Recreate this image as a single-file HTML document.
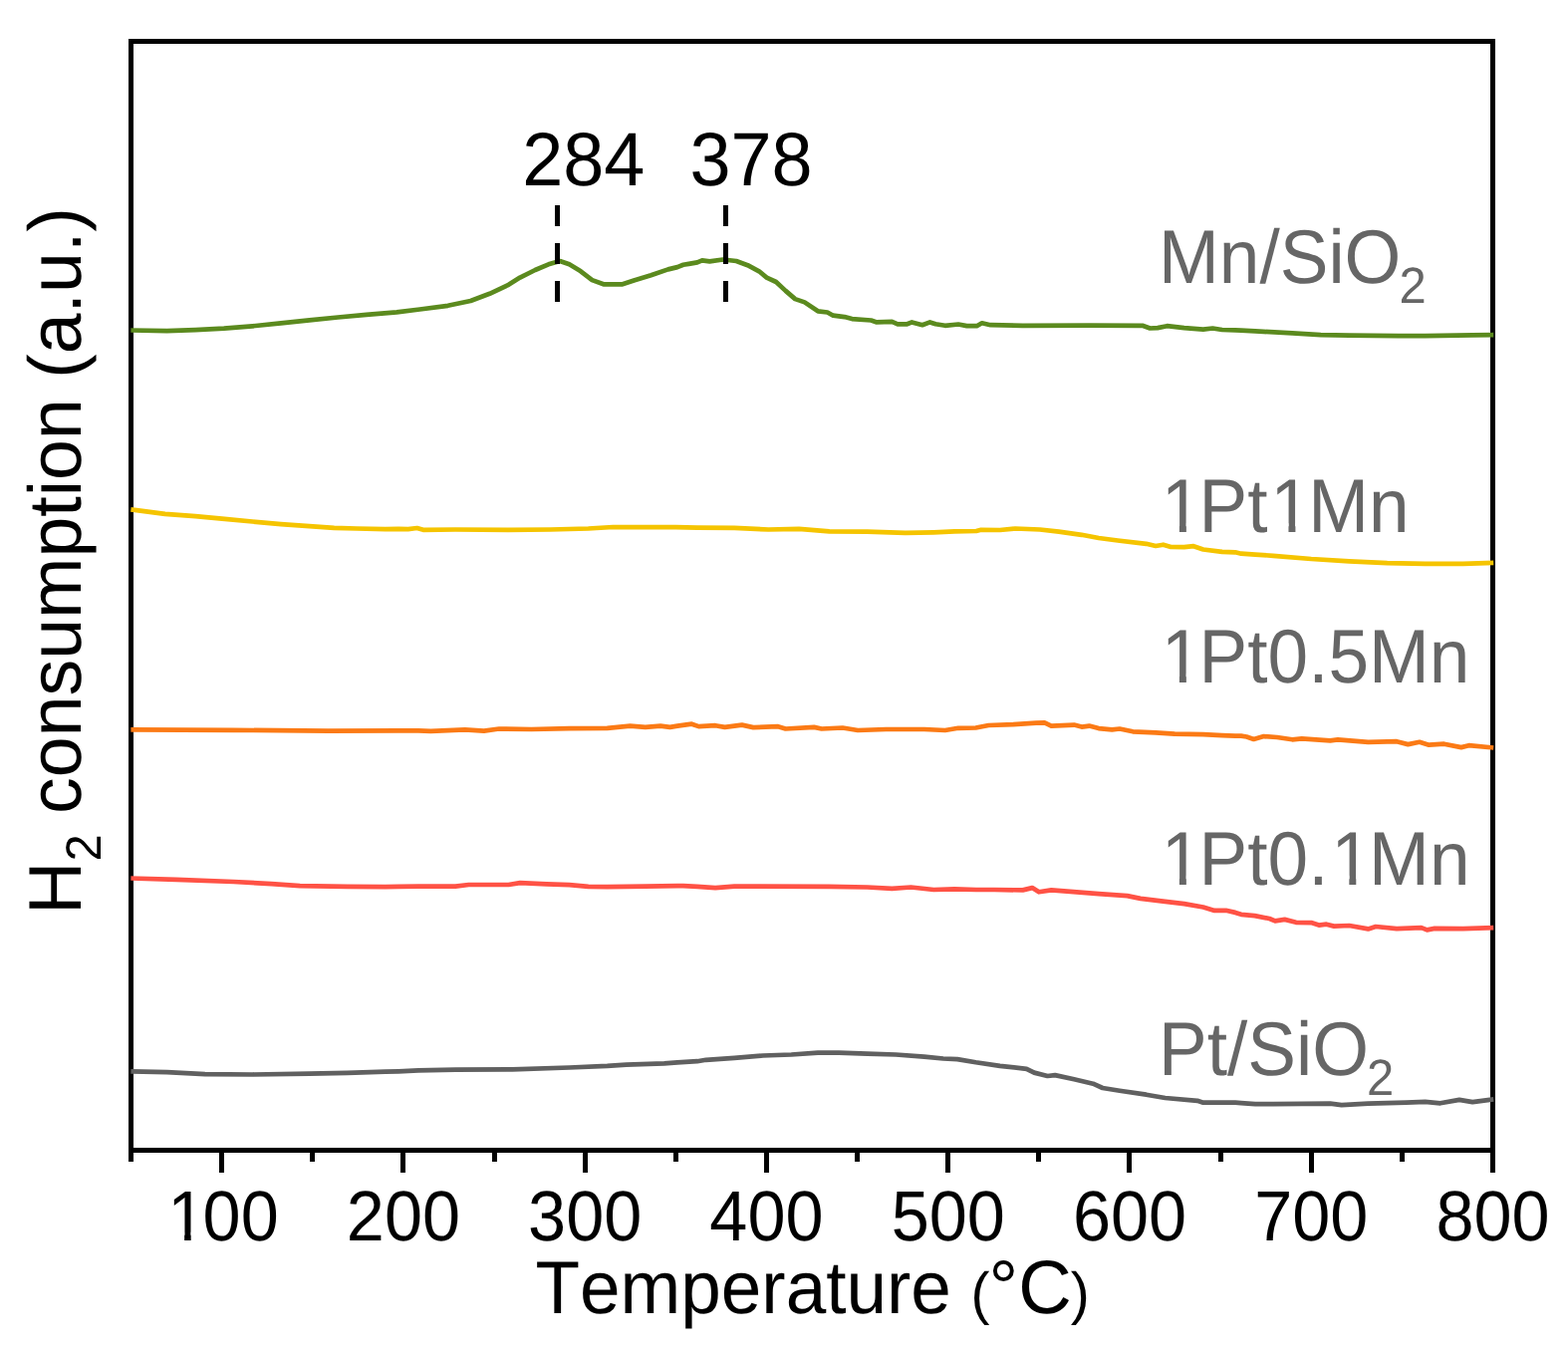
<!DOCTYPE html>
<html><head><meta charset="utf-8"><title>H2-TPR</title>
<style>
html,body{margin:0;padding:0;background:#fff;overflow:hidden;}
svg{display:block;}
text{font-family:"Liberation Sans",sans-serif;font-kerning:none;font-variant-ligatures:none;text-rendering:geometricPrecision;}
</style></head><body>
<svg width="1574" height="1358" viewBox="0 0 1574 1358">
<rect width="1574" height="1358" fill="#fff"/>
<defs>
<clipPath id="k100"><path clip-rule="evenodd" d="M-20,-68.4H154.1V27.4H-20ZM6.61,-8.11H19.56V4H6.61ZM26.10,-8.11H38.51V4H26.10Z"/></clipPath>
<clipPath id="kl1"><path clip-rule="evenodd" d="M-20,-73.0H291.6V29.2H-20ZM7.06,-8.45H20.89V4H7.06ZM27.84,-8.45H41.10V4H27.84ZM116.63,-8.45H130.46V4H116.63ZM137.41,-8.45H150.67V4H137.41Z"/></clipPath>
<clipPath id="kl2"><path clip-rule="evenodd" d="M-20,-73.0H352.5V29.2H-20ZM7.06,-8.45H20.89V4H7.06ZM27.84,-8.45H41.10V4H27.84Z"/></clipPath>
<clipPath id="kl3"><path clip-rule="evenodd" d="M-20,-73.0H352.5V29.2H-20ZM7.06,-8.45H20.89V4H7.06ZM27.84,-8.45H41.10V4H27.84ZM177.51,-8.45H191.34V4H177.51ZM198.29,-8.45H211.55V4H198.29Z"/></clipPath>
</defs>
<rect x="131.5" y="41.5" width="1367.0" height="1113.0" fill="none" stroke="#000" stroke-width="5" shape-rendering="crispEdges"/>
<g fill="#000" shape-rendering="crispEdges">
<rect x="129" y="1154" width="5" height="12"/>
<rect x="220" y="1154" width="5" height="23"/>
<rect x="311" y="1154" width="5" height="12"/>
<rect x="402" y="1154" width="5" height="23"/>
<rect x="494" y="1154" width="5" height="12"/>
<rect x="585" y="1154" width="5" height="23"/>
<rect x="676" y="1154" width="5" height="12"/>
<rect x="767" y="1154" width="5" height="23"/>
<rect x="858" y="1154" width="5" height="12"/>
<rect x="949" y="1154" width="5" height="23"/>
<rect x="1040" y="1154" width="5" height="12"/>
<rect x="1131" y="1154" width="5" height="23"/>
<rect x="1223" y="1154" width="5" height="12"/>
<rect x="1314" y="1154" width="5" height="23"/>
<rect x="1405" y="1154" width="5" height="12"/>
<rect x="1496" y="1154" width="5" height="23"/>
</g>
<g fill="none" stroke-width="4.7" stroke-linejoin="round" stroke-linecap="butt">
<path d="M131.4,1075.3 L167.6,1076.2 L205.8,1078.1 L253.4,1078.5 L310.6,1077.7 L348.7,1076.8 L386.8,1075.7 L400.0,1075.3 L420.0,1074.3 L457.2,1073.7 L514.4,1073.4 L571.5,1071.5 L609.6,1069.9 L628.7,1068.6 L666.8,1067.3 L680.0,1066.3 L700.0,1065.2 L708.6,1063.8 L737.2,1061.9 L765.8,1059.5 L794.4,1058.5 L821.0,1056.6 L842.0,1056.6 L870.6,1057.6 L899.2,1058.5 L927.8,1060.6 L946.8,1062.5 L961.0,1063.1 L979.5,1066.3 L1003.8,1069.9 L1030.5,1072.8 L1038.1,1076.6 L1051.5,1080.0 L1059.1,1079.1 L1078.2,1083.3 L1097.2,1087.7 L1106.8,1092.0 L1123.9,1094.8 L1150.6,1098.7 L1169.6,1102.0 L1202.0,1104.8 L1207.8,1106.7 L1240.0,1106.7 L1245.9,1107.1 L1260.0,1108.1 L1278.1,1108.1 L1335.3,1107.7 L1346.7,1109.2 L1373.4,1107.7 L1411.5,1106.7 L1430.6,1105.8 L1445.8,1107.3 L1464.9,1103.9 L1478.2,1106.1 L1499.2,1103.3" stroke="#606060"/>
<path d="M131.4,881.5 L177.2,882.9 L234.4,885.0 L272.5,887.1 L301.1,889.2 L348.7,889.9 L386.8,890.1 L400.0,889.9 L420.0,889.6 L457.2,889.6 L470.5,888.0 L510.5,888.0 L522.0,886.1 L548.7,887.3 L571.5,888.2 L590.6,889.9 L609.6,890.1 L647.8,889.6 L680.0,889.2 L685.9,889.2 L700.0,889.9 L718.1,891.1 L737.2,889.6 L832.5,889.9 L870.6,890.5 L895.4,891.8 L914.4,890.5 L937.3,893.0 L958.2,892.4 L980.0,893.0 L998.1,893.0 L1026.7,893.4 L1036.2,891.1 L1042.9,895.3 L1055.3,893.4 L1074.4,894.9 L1102.9,897.2 L1131.5,899.1 L1144.9,901.9 L1169.6,904.8 L1188.7,907.1 L1207.8,910.5 L1219.2,913.9 L1230.6,913.8 L1240.0,915.9 L1245.9,917.8 L1259.5,919.1 L1274.3,922.0 L1280.0,924.4 L1289.6,922.9 L1301.0,925.8 L1316.2,926.1 L1323.9,928.6 L1331.5,927.7 L1339.1,929.6 L1354.4,929.0 L1373.4,932.4 L1381.0,930.0 L1402.0,932.1 L1426.8,931.1 L1432.5,933.4 L1440.1,931.9 L1468.7,932.1 L1499.2,931.1" stroke="#ff5245"/>
<path d="M131.4,732.4 L234.4,732.8 L329.6,733.6 L400.0,733.4 L420.0,733.4 L432.4,733.9 L466.7,732.4 L485.8,733.7 L501.0,731.5 L533.4,732.0 L571.5,731.1 L609.6,730.9 L632.5,728.6 L647.8,729.9 L663.0,728.6 L672.5,729.9 L680.0,728.6 L694.4,726.7 L701.4,729.1 L718.1,728.2 L727.6,729.9 L744.8,727.6 L756.2,730.1 L781.0,729.2 L788.6,731.5 L817.2,729.9 L824.8,731.5 L845.8,730.5 L861.1,733.0 L889.6,732.0 L927.8,732.0 L948.7,733.0 L962.0,730.8 L979.5,730.5 L992.4,728.0 L1017.2,727.1 L1040.0,725.7 L1048.6,725.4 L1055.3,728.6 L1078.2,727.6 L1085.8,729.6 L1093.4,728.6 L1102.9,731.1 L1116.3,732.4 L1123.9,731.5 L1137.2,734.3 L1160.1,735.3 L1179.2,736.6 L1207.8,737.2 L1226.8,738.1 L1240.0,738.7 L1245.9,738.7 L1251.4,739.5 L1258.5,741.9 L1268.6,739.1 L1281.9,740.0 L1297.2,742.3 L1306.7,741.4 L1335.3,743.3 L1342.9,742.3 L1373.4,744.8 L1402.0,744.2 L1413.4,747.1 L1424.9,744.8 L1434.4,747.7 L1449.6,746.7 L1466.8,750.1 L1474.4,748.2 L1499.2,750.5" stroke="#fb7a15"/>
<path d="M131.4,511.4 L165.7,515.8 L196.2,518.1 L222.9,520.6 L253.4,523.5 L282.0,526.1 L310.6,528.2 L335.4,529.9 L358.2,530.5 L386.8,531.1 L400.0,530.9 L409.7,531.1 L418.6,530.0 L424.8,531.8 L457.2,531.5 L510.5,531.8 L552.5,531.5 L590.6,530.5 L615.4,529.0 L647.8,529.2 L678.2,529.1 L700.0,529.6 L737.2,529.9 L771.5,531.5 L802.0,530.9 L832.5,533.4 L870.6,533.7 L908.7,534.9 L937.3,534.3 L958.2,533.4 L980.0,533.0 L984.8,531.8 L1003.8,532.0 L1019.1,530.5 L1043.9,531.5 L1062.9,533.7 L1085.8,536.8 L1102.9,540.0 L1122.0,542.5 L1150.6,545.8 L1160.1,548.0 L1167.7,546.7 L1175.4,549.0 L1188.7,549.2 L1198.2,548.2 L1207.8,551.5 L1226.8,553.9 L1240.0,554.3 L1245.9,555.7 L1260.0,556.6 L1278.1,557.8 L1316.2,561.0 L1354.4,563.3 L1392.5,565.2 L1430.6,565.8 L1468.7,565.8 L1499.2,564.8" stroke="#f5c400"/>
<path d="M131.4,331.5 L167.6,332.1 L196.2,331.1 L224.8,329.6 L253.4,327.3 L282.0,324.4 L310.6,321.4 L339.2,318.5 L367.8,315.9 L398.2,313.3 L421.4,310.5 L449.6,306.8 L472.4,302.0 L491.5,294.8 L510.5,285.8 L522.0,278.6 L537.2,271.0 L550.6,265.3 L562.0,262.0 L571.5,265.3 L583.0,272.3 L594.4,281.1 L605.8,285.3 L624.9,285.3 L636.3,281.5 L653.5,276.3 L670.6,270.4 L680.0,268.1 L685.9,265.8 L691.4,264.9 L700.0,263.4 L704.8,261.4 L712.4,262.4 L725.7,260.5 L739.1,262.0 L750.5,266.2 L762.0,272.3 L769.6,278.6 L779.1,283.0 L788.6,291.9 L798.2,300.1 L807.7,303.4 L821.0,312.3 L830.6,313.5 L836.3,316.7 L847.7,318.1 L855.3,320.1 L874.4,321.5 L880.1,323.4 L895.4,322.8 L901.1,325.3 L910.6,325.3 L915.4,323.4 L925.9,326.2 L933.5,323.4 L939.2,325.3 L948.7,326.8 L962.0,325.5 L970.5,327.1 L980.5,327.2 L985.7,324.3 L994.3,326.2 L1026.7,326.8 L1093.4,326.6 L1146.8,326.8 L1154.4,329.5 L1162.0,329.1 L1171.5,327.2 L1188.7,329.1 L1207.8,330.6 L1217.3,329.5 L1226.8,331.0 L1240.0,331.4 L1245.9,331.6 L1260.0,332.3 L1268.6,332.9 L1297.2,334.4 L1325.8,336.1 L1354.4,336.7 L1403.9,337.1 L1430.6,337.1 L1478.2,336.3 L1499.2,336.1" stroke="#5b8a1e"/>
</g>
<path d="M559.5,206 V303" stroke="#000" stroke-width="5" stroke-dasharray="20.5,17.5" fill="none" shape-rendering="crispEdges"/>
<path d="M728.5,206 V303" stroke="#000" stroke-width="5" stroke-dasharray="20.5,17.5" fill="none" shape-rendering="crispEdges"/>
<g font-size="68.4" fill="#000">
<text transform="translate(165.57,1245.3) scale(1,1.04)" clip-path="url(#k100)"><tspan dx="2.61">1</tspan><tspan dx="-2.61">00</tspan></text>
<text transform="translate(347.84,1245.3) scale(1,1.04)">200</text>
<text transform="translate(530.11,1245.3) scale(1,1.04)">300</text>
<text transform="translate(712.37,1245.3) scale(1,1.04)">400</text>
<text transform="translate(894.64,1245.3) scale(1,1.04)">500</text>
<text transform="translate(1076.91,1245.3) scale(1,1.04)">600</text>
<text transform="translate(1259.17,1245.3) scale(1,1.04)">700</text>
<text transform="translate(1441.44,1245.3) scale(1,1.04)">800</text>
</g>
<text transform="translate(537.5,1318.0) scale(1,1.025)" font-size="72.9" fill="#000" xml:space="preserve">Temperature <tspan font-size="57.0" dx="-0.5">(</tspan><tspan font-size="74.2" dx="-1">°C</tspan><tspan font-size="57.0" dx="-0.9">)</tspan></text>
<text transform="translate(81.1,917.7) rotate(-90) scale(1,1.02)" font-size="73.5" fill="#000">H<tspan font-size="49" dy="19.5">2</tspan><tspan dy="-19.5"> consumption (a.u.)</tspan></text>
<g font-size="73.8" text-anchor="middle" fill="#000">
<text transform="translate(585.8,185.8) scale(1,1.03)">284</text>
<text transform="translate(754.0,185.8) scale(1,1.03)">378</text>
</g>
<g font-size="73" fill="#666">
<text transform="translate(1163.0,283.6) scale(1,1.045)">Mn/SiO<tspan font-size="49" dx="-2" dy="19.5">2</tspan></text>
<text transform="translate(1163.0,534.0) scale(1,1.045)" clip-path="url(#kl1)"><tspan dx="2.78">1</tspan><tspan dx="-2.78">Pt</tspan><tspan dx="2.78">1</tspan><tspan dx="-2.78">Mn</tspan></text>
<text transform="translate(1163.0,685.0) scale(1,1.045)" clip-path="url(#kl2)"><tspan dx="2.78">1</tspan><tspan dx="-2.78">Pt0.5Mn</tspan></text>
<text transform="translate(1163.0,887.5) scale(1,1.045)" clip-path="url(#kl3)"><tspan dx="2.78">1</tspan><tspan dx="-2.78">Pt0.</tspan><tspan dx="2.78">1</tspan><tspan dx="-2.78">Mn</tspan></text>
<text transform="translate(1163.0,1078.7) scale(1,1.045)">Pt/SiO<tspan font-size="49" dx="-2" dy="19.5">2</tspan></text>
</g>
</svg></body></html>
